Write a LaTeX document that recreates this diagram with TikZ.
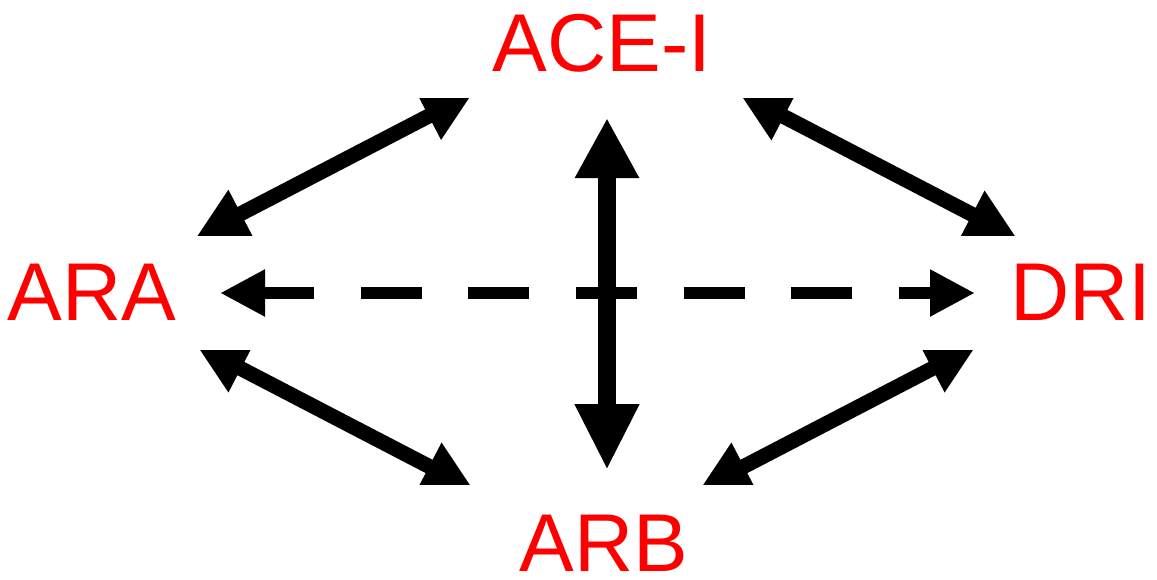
\documentclass[tikz,border=0pt]{standalone}
\usepackage{fontspec}
\setmainfont{Liberation Sans}
\usetikzlibrary{arrows.meta}
\begin{document}
\begin{tikzpicture}[x=1pt,y=-1pt,
  lbl/.style={text=red, font=\fontsize{82}{82}\selectfont, inner sep=0pt, anchor=base},
  diag/.style={line width=15pt, {Triangle[length=50pt,width=50pt]}-{Triangle[length=50pt,width=50pt]}},
  vert/.style={line width=18pt, {Triangle[length=60pt,width=60pt]}-{Triangle[length=66pt,width=60pt]}},
  horiz/.style={line width=12.5pt, dash pattern=on 61pt off 46.6pt, dash phase=9pt,
    {Triangle[length=45pt,width=44pt]}-{Triangle[length=45pt,width=44pt]}}]
\useasboundingbox (0,0) rectangle (1157,579);
\node[lbl] (ace) at (602,71) {ACE-I};
\node[lbl] (ara) at (92,320) {ARA};
\node[lbl] (dri) at (1081,320) {DRI};
\node[lbl] (arb) at (604,571) {ARB};
% arrow end points
\coordinate (ul1) at (196.5,236.7);
\coordinate (ul2) at (473,93);
\coordinate (ur1) at (739.5,93.5);
\coordinate (ur2) at (1016.5,237.5);
\coordinate (ll1) at (196.5,345.5);
\coordinate (ll2) at (473.5,489.5);
\coordinate (lr1) at (976.5,345.5);
\coordinate (lr2) at (699.5,489.5);
\coordinate (v1) at (607,118);
\coordinate (v2) at (607,470);
\coordinate (h1) at (220,293);
\coordinate (h2) at (975,293);
\begin{scope}
  \clip (0,98) rectangle (1157,235);
  \draw[diag] (ul1) -- (ul2);
  \draw[diag] (ur1) -- (ur2);
\end{scope}
\begin{scope}
  \clip (0,350) rectangle (1157,484);
  \draw[diag] (ll1) -- (ll2);
  \draw[diag] (lr2) -- (lr1);
\end{scope}
\draw[horiz] (h1) -- (h2);
\draw[vert] (v1) -- (v2);
\end{tikzpicture}
\end{document}
